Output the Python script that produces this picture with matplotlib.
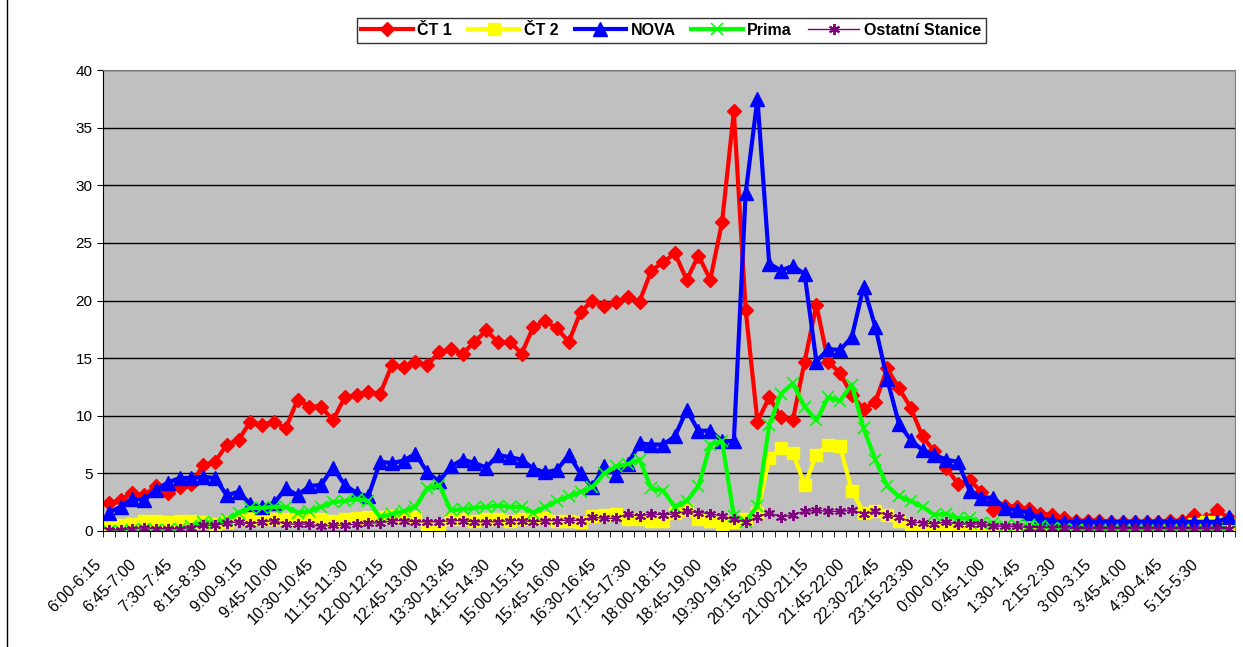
import matplotlib
matplotlib.use("Agg")
import matplotlib.pyplot as plt
from matplotlib.lines import Line2D
from matplotlib.transforms import ScaledTranslation
import numpy as np

plt.rcParams['font.family'] = ['Liberation Sans', 'DejaVu Sans']

# 15-minute slots from 6:00 to 6:00 next day
def slot_label(k):
    m0 = (6 * 60 + 15 * k) % (24 * 60)
    m1 = (m0 + 15) % (24 * 60)
    return "%d:%02d-%d:%02d" % (m0 // 60, m0 % 60, m1 // 60, m1 % 60)

slots = [slot_label(k) for k in range(96)]

ct1 = [2.4, 2.7, 3.3, 3.1, 3.9, 3.3, 3.8, 4.1, 5.7, 6.0,
       7.5, 7.9, 9.5, 9.2, 9.5, 8.9, 11.4, 10.8, 10.8, 9.6,
       11.6, 11.8, 12.1, 11.9, 14.4, 14.2, 14.7, 14.4, 15.5, 15.8,
       15.4, 16.4, 17.4, 16.4, 16.4, 15.4, 17.7, 18.2, 17.6, 16.4,
       19.0, 20.0, 19.5, 19.9, 20.3, 19.9, 22.6, 23.3, 24.1, 21.8,
       23.9, 21.8, 26.8, 36.4, 19.2, 9.5, 11.6, 9.9, 9.6, 14.7,
       19.6, 14.7, 13.7, 11.8, 10.6, 11.2, 14.1, 12.4, 10.7, 8.2,
       6.9, 5.5, 4.1, 4.4, 3.4, 1.8, 2.2, 2.1, 1.9, 1.5,
       1.4, 1.1, 0.9, 0.9, 0.9, 0.8, 0.8, 0.8, 0.8, 0.8,
       0.9, 0.9, 1.4, 1.0, 1.8, 1.1]

ct2 = [0.5, 0.5, 0.6, 0.9, 0.9, 0.8, 0.9, 0.9, 0.8, 0.6,
       0.8, 1.0, 1.1, 1.0, 1.0, 1.0, 1.0, 1.0, 1.0, 0.9,
       1.0, 1.1, 1.2, 1.2, 1.3, 1.3, 1.2, 0.3, 0.2, 1.0,
       1.0, 0.9, 1.0, 1.0, 0.9, 1.0, 1.0, 1.1, 0.9, 0.9,
       0.8, 1.3, 1.4, 1.5, 1.0, 1.0, 0.9, 0.9, 1.6, 1.8,
       1.0, 0.9, 0.5, 0.8, 1.0, 1.6, 6.3, 7.2, 6.8, 4.0,
       6.6, 7.5, 7.4, 3.5, 1.6, 1.7, 1.4, 0.9, 0.5, 0.3,
       0.2, 0.2, 0.1, 0.1, 0.1, 0.1, 0.1, 0.1, 0.1, 0.1,
       0.1, 0.1, 0.2, 0.2, 0.2, 0.2, 0.2, 0.2, 0.2, 0.3,
       0.3, 0.3, 0.6, 0.8, 0.7, 0.6]

nova = [1.6, 2.1, 2.8, 2.7, 3.6, 4.2, 4.6, 4.6, 4.7, 4.6,
        3.1, 3.4, 2.3, 2.1, 2.4, 3.7, 3.1, 3.9, 4.0, 5.5,
        4.0, 3.3, 3.0, 6.0, 5.9, 6.1, 6.7, 5.1, 4.3, 5.6,
        6.2, 5.9, 5.5, 6.6, 6.4, 6.2, 5.4, 5.1, 5.3, 6.6,
        5.0, 3.8, 5.6, 4.9, 5.8, 7.6, 7.5, 7.5, 8.2, 10.5,
        8.7, 8.7, 7.8, 7.8, 29.3, 37.5, 23.2, 22.6, 23.0, 22.3,
        14.7, 15.8, 15.7, 16.8, 21.2, 17.7, 13.2, 9.3, 7.9, 7.0,
        6.6, 6.2, 6.0, 3.5, 2.9, 2.9, 2.0, 1.8, 1.6, 1.1,
        0.9, 0.8, 0.8, 0.8, 0.8, 0.8, 0.8, 0.8, 0.8, 0.8,
        0.8, 0.8, 0.8, 0.8, 0.8, 1.2]

prima = [0.0, 0.0, 0.1, 0.2, 0.1, 0.1, 0.2, 0.4, 0.8, 0.7,
         1.0, 1.6, 2.0, 2.0, 2.1, 2.1, 1.6, 1.7, 2.1, 2.5,
         2.6, 2.8, 2.6, 1.2, 1.5, 1.7, 2.1, 3.7, 4.0, 1.8,
         1.9, 2.0, 2.1, 2.2, 2.1, 2.1, 1.6, 2.1, 2.6, 3.0,
         3.4, 3.8, 5.0, 5.6, 5.8, 6.2, 3.7, 3.5, 2.1, 2.6,
         3.9, 7.5, 7.8, 1.3, 0.8, 2.2, 9.2, 11.9, 12.8, 10.8,
         9.6, 11.6, 11.3, 12.7, 8.9, 6.2, 3.9, 3.0, 2.6, 2.1,
         1.4, 1.5, 1.1, 1.1, 0.7, 0.7, 0.4, 0.5, 0.5, 0.4,
         0.3, 0.2, 0.1, 0.0, 0.0, 0.0, 0.0, 0.0, 0.0, 0.0,
         0.0, 0.0, 0.0, 0.0, 0.0, 0.0]

ostatni = [0.1, 0.1, 0.2, 0.3, 0.2, 0.2, 0.2, 0.3, 0.5, 0.5,
           0.7, 0.8, 0.6, 0.8, 0.9, 0.6, 0.6, 0.6, 0.4, 0.5,
           0.5, 0.6, 0.7, 0.7, 0.9, 0.9, 0.8, 0.8, 0.8, 0.9,
           0.9, 0.8, 0.8, 0.8, 0.9, 0.9, 0.8, 0.9, 0.9, 0.95,
           0.9, 1.2, 1.1, 1.1, 1.5, 1.3, 1.5, 1.4, 1.5, 1.7,
           1.6, 1.5, 1.3, 1.0, 0.8, 1.2, 1.6, 1.2, 1.4, 1.7,
           1.8, 1.7, 1.7, 1.8, 1.5, 1.7, 1.4, 1.2, 0.8, 0.7,
           0.6, 0.8, 0.6, 0.6, 0.6, 0.4, 0.4, 0.4, 0.3, 0.3,
           0.3, 0.3, 0.2, 0.2, 0.2, 0.2, 0.2, 0.2, 0.2, 0.2,
           0.2, 0.2, 0.2, 0.2, 0.2, 0.2]

fig = plt.figure(figsize=(12.43, 6.47), dpi=100)
ax = fig.add_axes([103 / 1243, 1 - 531 / 647, 1132 / 1243, 461 / 647])
ax.set_facecolor('#C0C0C0')

x = np.arange(len(slots))
ax.plot(x, ct1, color='#FF0000', lw=3, marker='D', ms=7, label='ČT 1')
ax.plot(x, ct2, color='#FFFF00', lw=3, marker='s', ms=9, label='ČT 2')
ax.plot(x, nova, color='#0000FF', lw=3, marker='^', ms=10, label='NOVA')
ax.plot(x, prima, color='#00FF00', lw=3, marker='x', ms=9, mew=1.2, label='Prima')
ax.plot(x, ostatni, color='#800080', lw=1, marker=(6, 2, 0), ms=8, mew=1.4,
        label='Ostatní Stanice')

ax.set_xlim(-0.5, 95.5)
ax.set_ylim(0, 40)
ax.set_yticks(range(0, 41, 5))
ax.yaxis.grid(True, color='black', lw=1)
ax.set_axisbelow(True)

ax.set_xticks(x[::3])
ax.set_xticklabels(slots[::3], rotation=45, ha='right', va='center',
                   rotation_mode='anchor', fontsize=11.5)
ax.set_xticks(np.arange(-0.5, 96, 1), minor=True)
ax.tick_params(axis='x', which='major', length=0, pad=22)
ax.tick_params(axis='x', which='minor', length=4, direction='out', color='black')
ax.tick_params(axis='y', length=4, labelsize=11, direction='out')
shift = ScaledTranslation(-10 / 100, 0, fig.dpi_scale_trans)
for lab in ax.get_xticklabels():
    lab.set_transform(lab.get_transform() + shift)

for s in ['top', 'right']:
    ax.spines[s].set_color('#808080')
for s in ['left', 'bottom']:
    ax.spines[s].set_color('black')

leg = fig.legend(loc='center', bbox_to_anchor=(0.54, 0.953), ncol=5,
                 frameon=True, fancybox=False, edgecolor='black',
                 handlelength=3.2, columnspacing=1.0, handletextpad=0.3,
                 borderpad=0.3, prop={'weight': 'bold', 'size': 11.5})
leg.get_frame().set_linewidth(1)

# left border of the chart area
fig.add_artist(Line2D([7 / 1243, 7 / 1243], [0, 1], color='black', lw=1,
                      transform=fig.transFigure))

fig.savefig('out.png', dpi=100)
